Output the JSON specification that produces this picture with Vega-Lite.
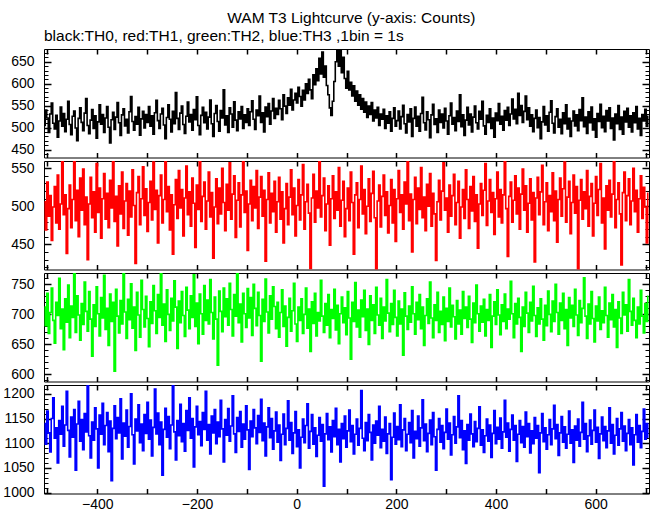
{
"$schema": "https://vega.github.io/schema/vega-lite/v6.json",
"background": "white",
"padding": {"left": 2, "top": 10, "right": 2, "bottom": 0},
"spacing": 0,
"config": {"font": "Liberation Sans", "view": {"stroke": "#000", "strokeWidth": 1}, "axis": {"domain": false, "grid": false, "labelFont": "Liberation Sans", "labelFontSize": 14, "labelColor": "#000", "tickColor": "#000", "labelOverlap": false, "labelFlush": false, "format": "d"}, "title": {"font": "Liberation Sans", "fontSize": 15.5, "fontWeight": "normal", "color": "#000"}},
"title": {"text": "WAM T3 Lightcurve (y-axis: Counts)", "anchor": "middle", "dx": 25, "offset": 2},
"data": {"values": [
{"t":-506,"a":505,"b":506,"c":712,"d":1140},{"t":-503,"a":540,"b":469,"c":681,"d":1098},{"t":-500,"a":522,"b":532,"c":735,"d":1165},{"t":-497,"a":489,"b":487,"c":668,"d":1121},{"t":-494,"a":531,"b":514,"c":703,"d":1082},{"t":-491,"a":556,"b":455,"c":744,"d":1150},{"t":-488,"a":510,"b":499,"c":690,"d":1192},{"t":-485,"a":497,"b":526,"c":652,"d":1110},{"t":-482,"a":528,"b":478,"c":720,"d":1131},{"t":-479,"a":478,"b":541,"c":698,"d":1060},
{"t":-476,"a":515,"b":470,"c":760,"d":1146},{"t":-473,"a":547,"b":503,"c":676,"d":1118},{"t":-470,"a":503,"b":560,"c":709,"d":1175},{"t":-467,"a":532,"b":489,"c":641,"d":1094},{"t":-464,"a":491,"b":515,"c":726,"d":1137},{"t":-461,"a":519,"b":438,"c":687,"d":1205},{"t":-458,"a":560,"b":497,"c":749,"d":1126},{"t":-455,"a":507,"b":528,"c":661,"d":1072},{"t":-452,"a":484,"b":472,"c":714,"d":1153},{"t":-449,"a":526,"b":509,"c":695,"d":1112},
{"t":-446,"a":538,"b":565,"c":772,"d":1168},{"t":-443,"a":499,"b":481,"c":670,"d":1045},{"t":-440,"a":470,"b":521,"c":731,"d":1139},{"t":-437,"a":521,"b":460,"c":699,"d":1185},{"t":-434,"a":545,"b":537,"c":657,"d":1104},{"t":-431,"a":512,"b":495,"c":718,"d":1148},{"t":-428,"a":493,"b":549,"c":683,"d":1087},{"t":-425,"a":533,"b":476,"c":754,"d":1160},{"t":-422,"a":566,"b":512,"c":705,"d":1123},{"t":-419,"a":505,"b":430,"c":672,"d":1220},
{"t":-416,"a":486,"b":503,"c":738,"d":1115},{"t":-413,"a":517,"b":538,"c":692,"d":1070},{"t":-410,"a":541,"b":485,"c":630,"d":1143},{"t":-407,"a":498,"b":519,"c":716,"d":1106},{"t":-404,"a":527,"b":466,"c":680,"d":1172},{"t":-401,"a":476,"b":556,"c":746,"d":1129},{"t":-398,"a":513,"b":492,"c":701,"d":1050},{"t":-395,"a":552,"b":524,"c":664,"d":1157},{"t":-392,"a":508,"b":458,"c":728,"d":1118},{"t":-389,"a":530,"b":510,"c":694,"d":1181},
{"t":-386,"a":489,"b":543,"c":765,"d":1097},{"t":-383,"a":522,"b":483,"c":675,"d":1136},{"t":-380,"a":548,"b":517,"c":710,"d":1162},{"t":-377,"a":501,"b":472,"c":648,"d":1083},{"t":-374,"a":465,"b":534,"c":734,"d":1145},{"t":-371,"a":518,"b":498,"c":688,"d":1024},{"t":-368,"a":535,"b":562,"c":720,"d":1130},{"t":-365,"a":496,"b":480,"c":605,"d":1176},{"t":-362,"a":524,"b":513,"c":742,"d":1109},{"t":-359,"a":557,"b":448,"c":697,"d":1152},
{"t":-356,"a":511,"b":527,"c":669,"d":1121},{"t":-353,"a":482,"b":490,"c":723,"d":1190},{"t":-350,"a":529,"b":545,"c":684,"d":1068},{"t":-347,"a":543,"b":471,"c":770,"d":1141},{"t":-344,"a":504,"b":507,"c":704,"d":1114},{"t":-341,"a":519,"b":530,"c":660,"d":1167},{"t":-338,"a":488,"b":462,"c":725,"d":1092},{"t":-335,"a":536,"b":520,"c":691,"d":1134},{"t":-332,"a":571,"b":486,"c":751,"d":1200},{"t":-329,"a":514,"b":548,"c":677,"d":1117},
{"t":-326,"a":494,"b":501,"c":712,"d":1058},{"t":-323,"a":525,"b":425,"c":640,"d":1149},{"t":-320,"a":508,"b":518,"c":737,"d":1125},{"t":-317,"a":546,"b":539,"c":699,"d":1178},{"t":-314,"a":483,"b":476,"c":662,"d":1101},{"t":-311,"a":520,"b":510,"c":757,"d":1139},{"t":-308,"a":537,"b":552,"c":708,"d":1085},{"t":-305,"a":499,"b":488,"c":679,"d":1158},{"t":-302,"a":530,"b":523,"c":730,"d":1120},{"t":-299,"a":512,"b":467,"c":693,"d":1183},
{"t":-296,"a":548,"b":505,"c":646,"d":1108},{"t":-293,"a":503,"b":533,"c":721,"d":1147},{"t":-290,"a":527,"b":482,"c":685,"d":1074},{"t":-287,"a":485,"b":558,"c":748,"d":1132},{"t":-284,"a":534,"b":496,"c":706,"d":1210},{"t":-281,"a":562,"b":521,"c":668,"d":1119},{"t":-278,"a":516,"b":452,"c":733,"d":1161},{"t":-275,"a":498,"b":514,"c":695,"d":1097},{"t":-272,"a":531,"b":541,"c":772,"d":1143},{"t":-269,"a":544,"b":478,"c":682,"d":1035},
{"t":-266,"a":506,"b":509,"c":717,"d":1128},{"t":-263,"a":475,"b":566,"c":655,"d":1171},{"t":-260,"a":523,"b":493,"c":741,"d":1112},{"t":-257,"a":552,"b":526,"c":700,"d":1154},{"t":-254,"a":519,"b":469,"c":673,"d":1089},{"t":-251,"a":490,"b":515,"c":727,"d":1137},{"t":-248,"a":537,"b":437,"c":689,"d":1218},{"t":-245,"a":509,"b":502,"c":756,"d":1123},{"t":-242,"a":580,"b":535,"c":712,"d":1066},{"t":-239,"a":521,"b":484,"c":643,"d":1146},
{"t":-236,"a":496,"b":547,"c":722,"d":1115},{"t":-233,"a":533,"b":498,"c":686,"d":1179},{"t":-230,"a":549,"b":522,"c":738,"d":1103},{"t":-227,"a":507,"b":461,"c":698,"d":1140},{"t":-224,"a":487,"b":511,"c":663,"d":1084},{"t":-221,"a":526,"b":553,"c":745,"d":1166},{"t":-218,"a":558,"b":489,"c":707,"d":1126},{"t":-215,"a":513,"b":519,"c":676,"d":1192},{"t":-212,"a":530,"b":474,"c":731,"d":1110},{"t":-209,"a":494,"b":537,"c":695,"d":1150},
{"t":-206,"a":541,"b":504,"c":766,"d":1052},{"t":-203,"a":518,"b":446,"c":680,"d":1133},{"t":-200,"a":570,"b":528,"c":719,"d":1175},{"t":-197,"a":505,"b":496,"c":651,"d":1117},{"t":-194,"a":484,"b":561,"c":734,"d":1144},{"t":-191,"a":528,"b":480,"c":701,"d":1095},{"t":-188,"a":546,"b":513,"c":667,"d":1162},{"t":-185,"a":511,"b":532,"c":748,"d":1128},{"t":-182,"a":535,"b":470,"c":690,"d":1205},{"t":-179,"a":497,"b":507,"c":724,"d":1106},
{"t":-176,"a":524,"b":545,"c":684,"d":1138},{"t":-173,"a":563,"b":486,"c":758,"d":1078},{"t":-170,"a":509,"b":518,"c":703,"d":1155},{"t":-167,"a":480,"b":432,"c":659,"d":1121},{"t":-164,"a":532,"b":499,"c":729,"d":1168},{"t":-161,"a":550,"b":536,"c":692,"d":1099},{"t":-158,"a":514,"b":477,"c":615,"d":1143},{"t":-155,"a":492,"b":524,"c":739,"d":1113},{"t":-152,"a":539,"b":490,"c":705,"d":1187},{"t":-149,"a":522,"b":550,"c":671,"d":1129},
{"t":-146,"a":586,"b":505,"c":744,"d":1062},{"t":-143,"a":506,"b":468,"c":696,"d":1148},{"t":-140,"a":527,"b":529,"c":726,"d":1116},{"t":-137,"a":489,"b":495,"c":682,"d":1170},{"t":-134,"a":545,"b":557,"c":752,"d":1104},{"t":-131,"a":531,"b":483,"c":708,"d":1135},{"t":-128,"a":501,"b":516,"c":664,"d":1196},{"t":-125,"a":559,"b":540,"c":733,"d":1119},{"t":-122,"a":517,"b":459,"c":697,"d":1081},{"t":-119,"a":493,"b":508,"c":769,"d":1152},
{"t":-116,"a":536,"b":531,"c":686,"d":1124},{"t":-113,"a":520,"b":473,"c":717,"d":1164},{"t":-110,"a":548,"b":515,"c":654,"d":1092},{"t":-107,"a":498,"b":562,"c":735,"d":1139},{"t":-104,"a":529,"b":492,"c":701,"d":1108},{"t":-101,"a":512,"b":520,"c":678,"d":1176},{"t":-98,"a":543,"b":442,"c":743,"d":1127},{"t":-95,"a":505,"b":503,"c":694,"d":1047},{"t":-92,"a":536,"b":534,"c":728,"d":1145},{"t":-89,"a":561,"b":481,"c":665,"d":1113},
{"t":-86,"a":519,"b":526,"c":750,"d":1168},{"t":-83,"a":496,"b":498,"c":710,"d":1131},{"t":-80,"a":540,"b":547,"c":681,"d":1099},{"t":-77,"a":527,"b":471,"c":737,"d":1156},{"t":-74,"a":572,"b":512,"c":698,"d":1122},{"t":-71,"a":512,"b":539,"c":622,"d":1189},{"t":-68,"a":534,"b":487,"c":725,"d":1105},{"t":-65,"a":490,"b":521,"c":688,"d":1141},{"t":-62,"a":547,"b":428,"c":759,"d":1074},{"t":-59,"a":525,"b":509,"c":704,"d":1133},
{"t":-56,"a":555,"b":544,"c":669,"d":1172},{"t":-53,"a":508,"b":478,"c":731,"d":1111},{"t":-50,"a":538,"b":517,"c":692,"d":1150},{"t":-47,"a":566,"b":493,"c":746,"d":1088},{"t":-44,"a":521,"b":533,"c":713,"d":1125},{"t":-41,"a":544,"b":466,"c":676,"d":1163},{"t":-38,"a":530,"b":506,"c":720,"d":1102},{"t":-35,"a":562,"b":538,"c":662,"d":1137},{"t":-32,"a":543,"b":483,"c":703,"d":1065},{"t":-29,"a":518,"b":519,"c":741,"d":1118},
{"t":-26,"a":575,"b":452,"c":680,"d":1159},{"t":-23,"a":549,"b":497,"c":714,"d":1097},{"t":-20,"a":532,"b":530,"c":647,"d":1130},{"t":-17,"a":568,"b":476,"c":695,"d":1186},{"t":-14,"a":551,"b":512,"c":727,"d":1106},{"t":-11,"a":587,"b":548,"c":672,"d":1142},{"t":-8,"a":540,"b":489,"c":706,"d":1079},{"t":-5,"a":563,"b":524,"c":752,"d":1121},{"t":-2,"a":578,"b":461,"c":684,"d":1164},{"t":1,"a":556,"b":501,"c":655,"d":1093},
{"t":4,"a":592,"b":535,"c":712,"d":1127},{"t":7,"a":571,"b":482,"c":690,"d":1050},{"t":10,"a":549,"b":515,"c":726,"d":1112},{"t":13,"a":585,"b":555,"c":668,"d":1149},{"t":16,"a":563,"b":470,"c":700,"d":1101},{"t":19,"a":600,"b":506,"c":744,"d":1136},{"t":22,"a":578,"b":529,"c":677,"d":1180},{"t":25,"a":610,"b":491,"c":709,"d":1090},{"t":28,"a":586,"b":418,"c":638,"d":1124},{"t":31,"a":566,"b":511,"c":721,"d":1158},
{"t":34,"a":620,"b":542,"c":685,"d":1098},{"t":37,"a":598,"b":479,"c":735,"d":1131},{"t":40,"a":634,"b":520,"c":664,"d":1073},{"t":43,"a":607,"b":498,"c":703,"d":1116},{"t":46,"a":658,"b":563,"c":689,"d":1152},{"t":49,"a":622,"b":486,"c":757,"d":1104},{"t":52,"a":672,"b":514,"c":697,"d":1138},{"t":55,"a":615,"b":537,"c":670,"d":1013},{"t":58,"a":640,"b":468,"c":718,"d":1119},{"t":61,"a":596,"b":503,"c":682,"d":1160},
{"t":64,"a":575,"b":527,"c":733,"d":1107},{"t":67,"a":545,"b":449,"c":661,"d":1133},{"t":70,"a":528,"b":510,"c":708,"d":1082},{"t":73,"a":560,"b":540,"c":693,"d":1146},{"t":76,"a":605,"b":484,"c":742,"d":1113},{"t":79,"a":650,"b":519,"c":674,"d":1171},{"t":82,"a":690,"b":495,"c":715,"d":1097},{"t":85,"a":640,"b":551,"c":651,"d":1128},{"t":88,"a":685,"b":474,"c":701,"d":1062},{"t":91,"a":625,"b":508,"c":729,"d":1140},
{"t":94,"a":660,"b":533,"c":686,"d":1109},{"t":97,"a":612,"b":460,"c":711,"d":1155},{"t":100,"a":590,"b":497,"c":666,"d":1092},{"t":103,"a":628,"b":524,"c":738,"d":1125},{"t":106,"a":586,"b":481,"c":694,"d":1167},{"t":109,"a":603,"b":545,"c":625,"d":1103},{"t":112,"a":572,"b":505,"c":720,"d":1136},{"t":115,"a":595,"b":437,"c":688,"d":1078},{"t":118,"a":560,"b":515,"c":753,"d":1118},{"t":121,"a":583,"b":531,"c":679,"d":1149},
{"t":124,"a":551,"b":472,"c":707,"d":1096},{"t":127,"a":575,"b":509,"c":662,"d":1130},{"t":130,"a":542,"b":553,"c":724,"d":1207},{"t":133,"a":566,"b":490,"c":696,"d":1110},{"t":136,"a":535,"b":522,"c":740,"d":1085},{"t":139,"a":558,"b":464,"c":673,"d":1142},{"t":142,"a":523,"b":500,"c":709,"d":1105},{"t":145,"a":549,"b":536,"c":650,"d":1158},{"t":148,"a":530,"b":480,"c":731,"d":1122},{"t":151,"a":557,"b":517,"c":690,"d":1066},
{"t":154,"a":515,"b":546,"c":716,"d":1137},{"t":157,"a":540,"b":485,"c":668,"d":1100},{"t":160,"a":522,"b":414,"c":745,"d":1145},{"t":163,"a":546,"b":507,"c":699,"d":1116},{"t":166,"a":505,"b":528,"c":682,"d":1175},{"t":169,"a":531,"b":473,"c":727,"d":1091},{"t":172,"a":519,"b":513,"c":660,"d":1128},{"t":175,"a":542,"b":541,"c":712,"d":1104},{"t":178,"a":498,"b":488,"c":689,"d":1153},{"t":181,"a":527,"b":519,"c":758,"d":1079},
{"t":184,"a":510,"b":465,"c":702,"d":1119},{"t":187,"a":536,"b":501,"c":671,"d":1140},{"t":190,"a":492,"b":535,"c":718,"d":1026},{"t":193,"a":521,"b":478,"c":683,"d":1112},{"t":196,"a":545,"b":522,"c":740,"d":1161},{"t":199,"a":503,"b":454,"c":695,"d":1098},{"t":202,"a":516,"b":510,"c":664,"d":1134},{"t":205,"a":538,"b":547,"c":722,"d":1107},{"t":208,"a":497,"b":492,"c":684,"d":1178},{"t":211,"a":525,"b":515,"c":709,"d":1093},
{"t":214,"a":551,"b":470,"c":632,"d":1127},{"t":217,"a":509,"b":532,"c":736,"d":1150},{"t":220,"a":488,"b":503,"c":697,"d":1085},{"t":223,"a":530,"b":560,"c":675,"d":1118},{"t":226,"a":513,"b":481,"c":714,"d":1142},{"t":229,"a":543,"b":516,"c":687,"d":1101},{"t":232,"a":480,"b":440,"c":746,"d":1166},{"t":235,"a":521,"b":509,"c":701,"d":1070},{"t":238,"a":547,"b":538,"c":667,"d":1124},{"t":241,"a":503,"b":477,"c":720,"d":1109},
{"t":244,"a":526,"b":524,"c":691,"d":1155},{"t":247,"a":492,"b":496,"c":733,"d":1094},{"t":250,"a":532,"b":551,"c":676,"d":1131},{"t":253,"a":569,"b":485,"c":712,"d":1188},{"t":256,"a":511,"b":512,"c":648,"d":1105},{"t":259,"a":495,"b":468,"c":698,"d":1139},{"t":262,"a":536,"b":529,"c":726,"d":1083},{"t":265,"a":518,"b":500,"c":685,"d":1120},{"t":268,"a":477,"b":543,"c":754,"d":1147},{"t":271,"a":529,"b":474,"c":694,"d":1097},
{"t":274,"a":553,"b":517,"c":661,"d":1162},{"t":277,"a":507,"b":490,"c":716,"d":1113},{"t":280,"a":520,"b":429,"c":690,"d":1045},{"t":283,"a":489,"b":506,"c":737,"d":1128},{"t":286,"a":540,"b":534,"c":670,"d":1150},{"t":289,"a":512,"b":482,"c":705,"d":1102},{"t":292,"a":531,"b":520,"c":683,"d":1136},{"t":295,"a":499,"b":557,"c":729,"d":1089},{"t":298,"a":544,"b":495,"c":656,"d":1122},{"t":301,"a":515,"b":511,"c":710,"d":1169},
{"t":304,"a":485,"b":466,"c":688,"d":1108},{"t":307,"a":527,"b":528,"c":744,"d":1141},{"t":310,"a":556,"b":487,"c":679,"d":1076},{"t":313,"a":508,"b":514,"c":715,"d":1117},{"t":316,"a":523,"b":542,"c":696,"d":1154},{"t":319,"a":493,"b":476,"c":659,"d":1100},{"t":322,"a":538,"b":505,"c":723,"d":1133},{"t":325,"a":514,"b":533,"c":684,"d":1196},{"t":328,"a":575,"b":458,"c":707,"d":1111},{"t":331,"a":502,"b":499,"c":667,"d":1146},
{"t":334,"a":529,"b":522,"c":738,"d":1087},{"t":337,"a":482,"b":484,"c":693,"d":1125},{"t":340,"a":517,"b":548,"c":712,"d":1059},{"t":343,"a":546,"b":509,"c":678,"d":1138},{"t":346,"a":506,"b":471,"c":730,"d":1106},{"t":349,"a":531,"b":526,"c":692,"d":1159},{"t":352,"a":490,"b":494,"c":653,"d":1119},{"t":355,"a":524,"b":539,"c":719,"d":1093},{"t":358,"a":549,"b":480,"c":686,"d":1144},{"t":361,"a":511,"b":515,"c":749,"d":1103},
{"t":364,"a":497,"b":445,"c":701,"d":1130},{"t":367,"a":537,"b":503,"c":672,"d":1174},{"t":370,"a":519,"b":530,"c":714,"d":1096},{"t":373,"a":560,"b":488,"c":687,"d":1127},{"t":376,"a":504,"b":521,"c":725,"d":1081},{"t":379,"a":485,"b":556,"c":664,"d":1115},{"t":382,"a":528,"b":475,"c":708,"d":1149},{"t":385,"a":512,"b":507,"c":690,"d":1104},{"t":388,"a":543,"b":535,"c":733,"d":1137},{"t":391,"a":498,"b":492,"c":645,"d":1071},
{"t":394,"a":522,"b":518,"c":697,"d":1120},{"t":397,"a":478,"b":463,"c":721,"d":1166},{"t":400,"a":533,"b":510,"c":683,"d":1099},{"t":403,"a":516,"b":545,"c":741,"d":1132},{"t":406,"a":555,"b":486,"c":699,"d":1108},{"t":409,"a":508,"b":522,"c":666,"d":1151},{"t":412,"a":526,"b":478,"c":716,"d":1090},{"t":415,"a":494,"b":515,"c":688,"d":1123},{"t":418,"a":539,"b":561,"c":734,"d":1187},{"t":421,"a":517,"b":497,"c":676,"d":1112},
{"t":424,"a":546,"b":434,"c":709,"d":1141},{"t":427,"a":505,"b":513,"c":692,"d":1084},{"t":430,"a":531,"b":532,"c":755,"d":1128},{"t":433,"a":565,"b":479,"c":701,"d":1157},{"t":436,"a":520,"b":508,"c":661,"d":1106},{"t":439,"a":542,"b":540,"c":718,"d":1136},{"t":442,"a":509,"b":490,"c":684,"d":1063},{"t":445,"a":578,"b":524,"c":727,"d":1118},{"t":448,"a":528,"b":470,"c":695,"d":1146},{"t":451,"a":550,"b":516,"c":638,"d":1101},
{"t":454,"a":512,"b":549,"c":712,"d":1134},{"t":457,"a":537,"b":495,"c":680,"d":1092},{"t":460,"a":572,"b":527,"c":737,"d":1163},{"t":463,"a":518,"b":466,"c":702,"d":1113},{"t":466,"a":545,"b":504,"c":670,"d":1140},{"t":469,"a":503,"b":536,"c":720,"d":1080},{"t":472,"a":529,"b":482,"c":689,"d":1125},{"t":475,"a":491,"b":518,"c":747,"d":1099},{"t":478,"a":521,"b":427,"c":698,"d":1152},{"t":481,"a":540,"b":511,"c":663,"d":1110},
{"t":484,"a":500,"b":538,"c":711,"d":1136},{"t":487,"a":523,"b":489,"c":684,"d":1040},{"t":490,"a":475,"b":519,"c":726,"d":1121},{"t":493,"a":513,"b":554,"c":692,"d":1160},{"t":496,"a":548,"b":476,"c":657,"d":1103},{"t":499,"a":506,"b":506,"c":715,"d":1131},{"t":502,"a":527,"b":531,"c":681,"d":1088},{"t":505,"a":492,"b":468,"c":739,"d":1117},{"t":508,"a":535,"b":514,"c":700,"d":1148},{"t":511,"a":561,"b":493,"c":671,"d":1097},
{"t":514,"a":510,"b":544,"c":722,"d":1129},{"t":517,"a":488,"b":481,"c":688,"d":1177},{"t":520,"a":525,"b":520,"c":750,"d":1109},{"t":523,"a":543,"b":453,"c":703,"d":1138},{"t":526,"a":501,"b":509,"c":667,"d":1075},{"t":529,"a":519,"b":537,"c":719,"d":1121},{"t":532,"a":486,"b":487,"c":690,"d":1154},{"t":535,"a":534,"b":523,"c":735,"d":1102},{"t":538,"a":509,"b":558,"c":676,"d":1133},{"t":541,"a":552,"b":479,"c":708,"d":1090},
{"t":544,"a":497,"b":512,"c":648,"d":1118},{"t":547,"a":521,"b":533,"c":728,"d":1165},{"t":550,"a":480,"b":464,"c":694,"d":1100},{"t":553,"a":515,"b":505,"c":715,"d":1127},{"t":556,"a":538,"b":541,"c":680,"d":1061},{"t":559,"a":504,"b":491,"c":742,"d":1135},{"t":562,"a":529,"b":526,"c":699,"d":1106},{"t":565,"a":493,"b":415,"c":665,"d":1149},{"t":568,"a":541,"b":508,"c":723,"d":1094},{"t":571,"a":516,"b":535,"c":686,"d":1122},
{"t":574,"a":568,"b":483,"c":710,"d":1183},{"t":577,"a":502,"b":519,"c":761,"d":1108},{"t":580,"a":524,"b":497,"c":697,"d":1140},{"t":583,"a":487,"b":547,"c":660,"d":1083},{"t":586,"a":536,"b":474,"c":717,"d":1115},{"t":589,"a":511,"b":513,"c":684,"d":1147},{"t":592,"a":547,"b":530,"c":738,"d":1098},{"t":595,"a":495,"b":461,"c":693,"d":1126},{"t":598,"a":520,"b":504,"c":654,"d":1167},{"t":601,"a":478,"b":539,"c":714,"d":1102},
{"t":604,"a":532,"b":488,"c":689,"d":1132},{"t":607,"a":514,"b":522,"c":729,"d":1069},{"t":610,"a":553,"b":556,"c":675,"d":1119},{"t":613,"a":500,"b":478,"c":706,"d":1153},{"t":616,"a":526,"b":511,"c":686,"d":1105},{"t":619,"a":491,"b":444,"c":745,"d":1134},{"t":622,"a":539,"b":527,"c":698,"d":1091},{"t":625,"a":515,"b":495,"c":662,"d":1125},{"t":628,"a":545,"b":534,"c":719,"d":1172},{"t":631,"a":498,"b":486,"c":691,"d":1100},
{"t":634,"a":522,"b":516,"c":733,"d":1138},{"t":637,"a":472,"b":560,"c":679,"d":1078},{"t":640,"a":531,"b":472,"c":708,"d":1116},{"t":643,"a":509,"b":509,"c":645,"d":1150},{"t":646,"a":550,"b":531,"c":721,"d":1096},{"t":649,"a":496,"b":490,"c":694,"d":1129},{"t":652,"a":524,"b":423,"c":668,"d":1162},{"t":655,"a":485,"b":518,"c":737,"d":1104},{"t":658,"a":537,"b":545,"c":699,"d":1135},{"t":661,"a":513,"b":481,"c":716,"d":1085},
{"t":664,"a":544,"b":514,"c":672,"d":1120},{"t":667,"a":501,"b":536,"c":758,"d":1148},{"t":670,"a":527,"b":476,"c":705,"d":1097},{"t":673,"a":490,"b":507,"c":682,"d":1131},{"t":676,"a":534,"b":550,"c":727,"d":1056},{"t":679,"a":511,"b":493,"c":690,"d":1117},{"t":682,"a":548,"b":521,"c":661,"d":1158},{"t":685,"a":497,"b":466,"c":712,"d":1102},{"t":688,"a":521,"b":510,"c":684,"d":1136},{"t":691,"a":482,"b":540,"c":740,"d":1091},
{"t":694,"a":530,"b":484,"c":697,"d":1124},{"t":697,"a":515,"b":525,"c":669,"d":1169},{"t":700,"a":542,"b":499,"c":718,"d":1108},{"t":703,"a":503,"b":452,"c":688,"d":1140},{"t":706,"a":526,"b":517,"c":730,"d":1112}
]},
"vconcat": [
{"width": 605, "height": 108.5,
 "title": {"text": "black:TH0, red:TH1, green:TH2, blue:TH3 ,1bin = 1s", "anchor": "start", "frame": "group", "offset": 4},
 "layer": [
  {"mark": {"type": "line", "interpolate": "step", "color": "#000000", "strokeWidth": 1.6, "clip": true},
   "encoding": {"x": {"field": "t", "type": "quantitative", "title": null, "scale": {"domain": [-507, 707], "nice": false, "zero": false}, "axis": {"orient": "bottom", "values": [-500,-400,-300,-200,-100,0,100,200,300,400,500,600,700], "offset": -5, "tickSize": 5, "tickWidth": 1.5, "labels": false}},
                "y": {"field": "a", "type": "quantitative", "title": null, "scale": {"domain": [432, 679], "nice": false, "zero": false}, "axis": {"orient": "left", "values": [450,500,550,600,650], "offset": -7, "tickSize": 7, "tickWidth": 1.5, "labelPadding": 10}}}},
  {"mark": {"type": "line", "opacity": 0, "clip": true},
   "encoding": {"x": {"field": "t", "type": "quantitative", "title": null, "scale": {"domain": [-507, 707], "nice": false, "zero": false}, "axis": {"orient": "top", "values": [-500,-400,-300,-200,-100,0,100,200,300,400,500,600,700], "offset": -5, "tickSize": 5, "tickWidth": 1.5, "labels": false}},
                "y": {"field": "a", "type": "quantitative", "title": null, "scale": {"domain": [432, 679], "nice": false, "zero": false}, "axis": {"orient": "right", "values": [450,500,550,600,650], "offset": -7, "tickSize": 7, "tickWidth": 1.5, "labels": false}}}},
  {"mark": {"type": "line", "opacity": 0, "clip": true},
   "encoding": {"x": {"field": "t", "type": "quantitative", "scale": {"domain": [-507, 707], "nice": false, "zero": false}, "axis": null},
                "y": {"field": "a", "type": "quantitative", "title": null, "scale": {"domain": [432, 679], "nice": false, "zero": false}, "axis": {"orient": "left", "values": [440,450,460,470,480,490,500,510,520,530,540,550,560,570,580,590,600,610,620,630,640,650,660,670], "offset": -4, "tickSize": 4, "tickWidth": 1, "labels": false}}}},
  {"mark": {"type": "line", "opacity": 0, "clip": true},
   "encoding": {"x": {"field": "t", "type": "quantitative", "scale": {"domain": [-507, 707], "nice": false, "zero": false}, "axis": null},
                "y": {"field": "a", "type": "quantitative", "title": null, "scale": {"domain": [432, 679], "nice": false, "zero": false}, "axis": {"orient": "right", "values": [440,450,460,470,480,490,500,510,520,530,540,550,560,570,580,590,600,610,620,630,640,650,660,670], "offset": -4, "tickSize": 4, "tickWidth": 1, "labels": false}}}}
 ],
 "resolve": {"scale": {"x": "independent", "y": "independent"}, "axis": {"x": "independent", "y": "independent"}}
},
{"width": 605, "height": 108.5,
 "layer": [
  {"mark": {"type": "line", "interpolate": "step", "color": "#ff0000", "strokeWidth": 1.6, "clip": true},
   "encoding": {"x": {"field": "t", "type": "quantitative", "title": null, "scale": {"domain": [-507, 707], "nice": false, "zero": false}, "axis": {"orient": "bottom", "values": [-500,-400,-300,-200,-100,0,100,200,300,400,500,600,700], "offset": -5, "tickSize": 5, "tickWidth": 1.5, "labels": false}},
                "y": {"field": "b", "type": "quantitative", "title": null, "scale": {"domain": [417, 559.5], "nice": false, "zero": false}, "axis": {"orient": "left", "values": [450,500,550], "offset": -7, "tickSize": 7, "tickWidth": 1.5, "labelPadding": 10}}}},
  {"mark": {"type": "line", "opacity": 0, "clip": true},
   "encoding": {"x": {"field": "t", "type": "quantitative", "title": null, "scale": {"domain": [-507, 707], "nice": false, "zero": false}, "axis": {"orient": "top", "values": [-500,-400,-300,-200,-100,0,100,200,300,400,500,600,700], "offset": -5, "tickSize": 5, "tickWidth": 1.5, "labels": false}},
                "y": {"field": "b", "type": "quantitative", "title": null, "scale": {"domain": [417, 559.5], "nice": false, "zero": false}, "axis": {"orient": "right", "values": [450,500,550], "offset": -7, "tickSize": 7, "tickWidth": 1.5, "labels": false}}}},
  {"mark": {"type": "line", "opacity": 0, "clip": true},
   "encoding": {"x": {"field": "t", "type": "quantitative", "scale": {"domain": [-507, 707], "nice": false, "zero": false}, "axis": null},
                "y": {"field": "b", "type": "quantitative", "title": null, "scale": {"domain": [417, 559.5], "nice": false, "zero": false}, "axis": {"orient": "left", "values": [420,430,440,450,460,470,480,490,500,510,520,530,540,550], "offset": -4, "tickSize": 4, "tickWidth": 1, "labels": false}}}},
  {"mark": {"type": "line", "opacity": 0, "clip": true},
   "encoding": {"x": {"field": "t", "type": "quantitative", "scale": {"domain": [-507, 707], "nice": false, "zero": false}, "axis": null},
                "y": {"field": "b", "type": "quantitative", "title": null, "scale": {"domain": [417, 559.5], "nice": false, "zero": false}, "axis": {"orient": "right", "values": [420,430,440,450,460,470,480,490,500,510,520,530,540,550], "offset": -4, "tickSize": 4, "tickWidth": 1, "labels": false}}}}
 ],
 "resolve": {"scale": {"x": "independent", "y": "independent"}, "axis": {"x": "independent", "y": "independent"}}
},
{"width": 605, "height": 108.5,
 "layer": [
  {"mark": {"type": "line", "interpolate": "step", "color": "#00ff00", "strokeWidth": 1.6, "clip": true},
   "encoding": {"x": {"field": "t", "type": "quantitative", "title": null, "scale": {"domain": [-507, 707], "nice": false, "zero": false}, "axis": {"orient": "bottom", "values": [-500,-400,-300,-200,-100,0,100,200,300,400,500,600,700], "offset": -5, "tickSize": 5, "tickWidth": 1.5, "labels": false}},
                "y": {"field": "c", "type": "quantitative", "title": null, "scale": {"domain": [588, 769], "nice": false, "zero": false}, "axis": {"orient": "left", "values": [600,650,700,750], "offset": -7, "tickSize": 7, "tickWidth": 1.5, "labelPadding": 10}}}},
  {"mark": {"type": "line", "opacity": 0, "clip": true},
   "encoding": {"x": {"field": "t", "type": "quantitative", "title": null, "scale": {"domain": [-507, 707], "nice": false, "zero": false}, "axis": {"orient": "top", "values": [-500,-400,-300,-200,-100,0,100,200,300,400,500,600,700], "offset": -5, "tickSize": 5, "tickWidth": 1.5, "labels": false}},
                "y": {"field": "c", "type": "quantitative", "title": null, "scale": {"domain": [588, 769], "nice": false, "zero": false}, "axis": {"orient": "right", "values": [600,650,700,750], "offset": -7, "tickSize": 7, "tickWidth": 1.5, "labels": false}}}},
  {"mark": {"type": "line", "opacity": 0, "clip": true},
   "encoding": {"x": {"field": "t", "type": "quantitative", "scale": {"domain": [-507, 707], "nice": false, "zero": false}, "axis": null},
                "y": {"field": "c", "type": "quantitative", "title": null, "scale": {"domain": [588, 769], "nice": false, "zero": false}, "axis": {"orient": "left", "values": [590,600,610,620,630,640,650,660,670,680,690,700,710,720,730,740,750,760], "offset": -4, "tickSize": 4, "tickWidth": 1, "labels": false}}}},
  {"mark": {"type": "line", "opacity": 0, "clip": true},
   "encoding": {"x": {"field": "t", "type": "quantitative", "scale": {"domain": [-507, 707], "nice": false, "zero": false}, "axis": null},
                "y": {"field": "c", "type": "quantitative", "title": null, "scale": {"domain": [588, 769], "nice": false, "zero": false}, "axis": {"orient": "right", "values": [590,600,610,620,630,640,650,660,670,680,690,700,710,720,730,740,750,760], "offset": -4, "tickSize": 4, "tickWidth": 1, "labels": false}}}}
 ],
 "resolve": {"scale": {"x": "independent", "y": "independent"}, "axis": {"x": "independent", "y": "independent"}}
},
{"width": 605, "height": 108.5,
 "layer": [
  {"mark": {"type": "line", "interpolate": "step", "color": "#0000ff", "strokeWidth": 1.6, "clip": true},
   "encoding": {"x": {"field": "t", "type": "quantitative", "title": null, "scale": {"domain": [-507, 707], "nice": false, "zero": false}, "axis": {"orient": "bottom", "values": [-500,-400,-300,-200,-100,0,100,200,300,400,500,600,700], "offset": -5, "tickSize": 5, "tickWidth": 1.5, "labelExpr": "datum.value % 200 == 0 ? datum.label : ''", "labelPadding": 4}},
                "y": {"field": "d", "type": "quantitative", "title": null, "scale": {"domain": [998, 1218], "nice": false, "zero": false}, "axis": {"orient": "left", "values": [1000,1050,1100,1150,1200], "offset": -7, "tickSize": 7, "tickWidth": 1.5, "labelPadding": 10}}}},
  {"mark": {"type": "line", "opacity": 0, "clip": true},
   "encoding": {"x": {"field": "t", "type": "quantitative", "title": null, "scale": {"domain": [-507, 707], "nice": false, "zero": false}, "axis": {"orient": "top", "values": [-500,-400,-300,-200,-100,0,100,200,300,400,500,600,700], "offset": -5, "tickSize": 5, "tickWidth": 1.5, "labels": false}},
                "y": {"field": "d", "type": "quantitative", "title": null, "scale": {"domain": [998, 1218], "nice": false, "zero": false}, "axis": {"orient": "right", "values": [1000,1050,1100,1150,1200], "offset": -7, "tickSize": 7, "tickWidth": 1.5, "labels": false}}}},
  {"mark": {"type": "line", "opacity": 0, "clip": true},
   "encoding": {"x": {"field": "t", "type": "quantitative", "scale": {"domain": [-507, 707], "nice": false, "zero": false}, "axis": null},
                "y": {"field": "d", "type": "quantitative", "title": null, "scale": {"domain": [998, 1218], "nice": false, "zero": false}, "axis": {"orient": "left", "values": [1000,1010,1020,1030,1040,1050,1060,1070,1080,1090,1100,1110,1120,1130,1140,1150,1160,1170,1180,1190,1200,1210], "offset": -4, "tickSize": 4, "tickWidth": 1, "labels": false}}}},
  {"mark": {"type": "line", "opacity": 0, "clip": true},
   "encoding": {"x": {"field": "t", "type": "quantitative", "scale": {"domain": [-507, 707], "nice": false, "zero": false}, "axis": null},
                "y": {"field": "d", "type": "quantitative", "title": null, "scale": {"domain": [998, 1218], "nice": false, "zero": false}, "axis": {"orient": "right", "values": [1000,1010,1020,1030,1040,1050,1060,1070,1080,1090,1100,1110,1120,1130,1140,1150,1160,1170,1180,1190,1200,1210], "offset": -4, "tickSize": 4, "tickWidth": 1, "labels": false}}}}
 ],
 "resolve": {"scale": {"x": "independent", "y": "independent"}, "axis": {"x": "independent", "y": "independent"}}
}
]
}
